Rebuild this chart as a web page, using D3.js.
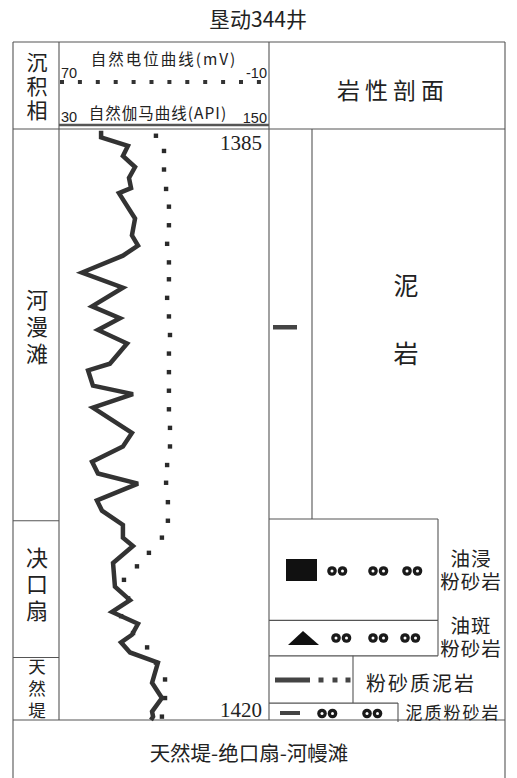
<!DOCTYPE html>
<html><head><meta charset="utf-8">
<script src="https://cdn.jsdelivr.net/npm/d3@7/dist/d3.min.js"></script>
<style>body{margin:0;background:#fff}svg{display:block}</style>
</head><body>
<script>
// ---------- data ----------
const title = "垦动344井";
const depthTicks = [1385, 1420];
// gamma ray curve (API) sampled by depth (m)
const grDepth = [1385.1,1385.5,1386.0,1386.6,1387.25,1387.9,1388.5,1388.8,1390.3,1391.3,1391.9,1392.5,1393.5,1394.4,1395.5,1396.2,1396.9,1397.7,1398.9,1399.3,1400.2,1400.7,1401.5,1403.0,1403.8,1404.7,1405.4,1406.0,1407.0,1407.6,1408.45,1409.2,1409.7,1410.7,1412.1,1412.9,1413.6,1414.3,1414.95,1415.4,1416.0,1416.6,1417.8,1418.7,1419.5,1419.8,1420.0];
const grValue = [53.7,53.7,69.2,66.3,73.3,69.8,71.0,64.0,73.3,71.5,75.0,66.3,42.7,66.3,48.5,64.6,51.9,68.7,58.8,46.2,49.0,72.1,49.0,71.5,66.3,48.5,51.9,75.0,51.3,54.2,66.3,66.3,72.1,60.6,61.7,70.4,60.0,75.0,71.5,65.2,70.4,86.5,83.1,88.8,83.1,83.7,82.5];
// spontaneous potential curve (mV) sampled by depth (m)
const spDepth = [1385.4,1386.3,1387.4,1388.55,1389.6,1390.7,1391.8,1392.9,1393.9,1395.0,1396.1,1397.2,1398.3,1399.4,1400.5,1401.6,1402.7,1403.8,1404.9,1405.95,1407.1,1408.2,1409.2,1410.1,1410.9,1411.7,1412.8,1413.85,1414.85,1415.7,1416.6,1417.6,1418.7,1419.8];
const spValue = [33.1,30.0,30.0,29.2,28.1,28.1,28.8,28.1,28.1,28.8,28.1,27.7,28.1,28.1,28.1,28.1,27.7,27.7,28.8,29.2,28.5,28.5,30.8,35.8,40.4,45.4,43.8,46.5,41.9,36.5,33.1,29.6,29.6,30.8];
// sedimentary facies
const faciesNames = ["河漫滩","决口扇","天然堤"];
const faciesTop = [1385, 1408.2, 1416.3];
const faciesBottom = [1408.2, 1416.3, 1420];
// lithology
const lithNames = ["泥岩","油浸粉砂岩","油斑粉砂岩","粉砂质泥岩","泥质粉砂岩"];
const lithTop = [1385, 1408.1, 1414.1, 1416.2, 1419.0];
const lithBottom = [1408.1, 1414.1, 1416.2, 1419.0, 1420];
const bottomLabel = "天然堤-绝口扇-河幔滩";

// ---------- layout ----------
const W = 517, H = 778;
const X0 = 13, XF = 59, XC = 269, XL = 312, X1 = 505;
const YTOP = 42, YHEAD = 129, YBODY = 720;
const LINE = "#555", INK = "#222";
const CJK = "'Noto Sans CJK SC','Noto Sans',sans-serif";
const SERIF = "'Liberation Serif','DejaVu Serif',serif";
const SANS = "'Liberation Sans',Arial,sans-serif";

const svg = d3.select("body").append("svg").attr("width", W).attr("height", H);

const y = d3.scaleLinear().domain([1385, 1420]).range([YHEAD, YBODY]);
const grX = d3.scaleLinear().domain([30, 150]).range([XF + 1, XC - 1]);
const spX = d3.scaleLinear().domain([70, -10]).range([XF + 1, XC - 1]);

function line(x1, y1, x2, y2, w) {
  svg.append("line").attr("x1", x1).attr("y1", y1).attr("x2", x2).attr("y2", y2)
    .attr("stroke", LINE).attr("stroke-width", w || 1.1);
}
function text(s, x, yy, size, opts) {
  opts = opts || {};
  return svg.append("text").attr("x", x).attr("y", yy).text(s)
    .attr("font-family", opts.family || CJK).attr("font-size", size)
    .attr("text-anchor", opts.anchor || "middle")
    .attr("dominant-baseline", opts.baseline || "central")
    .attr("letter-spacing", opts.ls || 0)
    .attr("font-weight", opts.weight || "normal")
    .attr("fill", INK);
}
// vertical (top-to-bottom) text centred at (x, yc), glyph pitch = step
function vtext(s, x, yc, size, step) {
  const ls = step - size;
  return svg.append("text").attr("x", x).attr("y", yc + ls / 2).text(s)
    .attr("writing-mode", "vertical-rl")
    .attr("font-family", CJK).attr("font-size", size)
    .attr("text-anchor", "middle").attr("letter-spacing", ls)
    .attr("fill", INK);
}
// two-line label in an html box: first line centred at y0, centred on xc
function label2(lines, xc, y0, size, lh) {
  const w = 70;
  const fo = svg.append("foreignObject").attr("x", xc - w / 2).attr("y", y0 - lh / 2)
    .attr("width", w).attr("height", lh * lines.length + 4);
  const div = fo.append("xhtml:div")
    .style("font-family", CJK).style("font-size", size + "px").style("line-height", lh + "px")
    .style("text-align", "center").style("letter-spacing", "1px").style("color", INK)
    .style("white-space", "nowrap");
  div.html(lines.join("<br>"));
}

// title
text(title, 258, 18, 21);

// ---------- frame ----------
line(X0, YTOP, X1, YTOP);
line(X0, YTOP, X0, H);
line(X1, YTOP, X1, H);
line(XF, YTOP, XF, YBODY);
line(XC, YTOP, XC, YBODY);
line(X0, YHEAD, X1, YHEAD);
line(X0, YBODY, X1, YBODY);
line(XF, 125, XC, 125, 2.6);

// ---------- header ----------
vtext("沉积相", 37, 86, 21, 24);
text("自然电位曲线(mV)", 164, 58, 15.5, {ls: 2});
text("70", 61, 78, 14.5, {anchor: "start", baseline: "auto", family: SANS});
text("-10", 267, 78, 14.5, {anchor: "end", baseline: "auto", family: SANS});
svg.append("line").attr("x1", grX.range()[0]).attr("x2", grX.range()[1]).attr("y1", 82).attr("y2", 82)
  .attr("stroke", "#333").attr("stroke-width", 4).attr("stroke-dasharray", "4,13.9");
text("30", 61, 122, 14.5, {anchor: "start", baseline: "auto", family: SANS});
text("自然伽马曲线(API)", 158, 112, 15.5, {ls: 1});
text("150", 267, 123, 14.5, {anchor: "end", baseline: "auto", family: SANS});
text("岩性剖面", 393, 89, 23, {ls: 5});

// ---------- facies ----------
faciesNames.forEach((n, i) => {
  if (i > 0) line(X0, y(faciesTop[i]), XF, y(faciesTop[i]));
  const yc = (y(faciesTop[i]) + y(faciesBottom[i])) / 2;
  if (i === 0) vtext(n, 37, yc + 2, 22, 27);
  else if (i === 1) vtext(n, 37, yc - 5, 22, 26.5);
  else vtext(n, 37, yc, 17.5, 22);
});

// ---------- curves ----------
svg.append("clipPath").attr("id", "cc").append("rect")
  .attr("x", XF + 1).attr("y", YHEAD + 1).attr("width", XC - XF - 2).attr("height", YBODY - YHEAD + 2);
const curves = svg.append("g").attr("clip-path", "url(#cc)");
const spData = spDepth.map((d, i) => ({d, v: spValue[i]}));
curves.selectAll("rect.sp").data(spData).enter().append("rect").attr("class", "sp")
  .attr("x", p => spX(p.v) - 2.2).attr("y", p => y(p.d) - 2.2)
  .attr("width", 4.4).attr("height", 4.4).attr("fill", "#2a2a2a");
const grData = grDepth.map((d, i) => ({d, v: grValue[i]}));
curves.append("path").datum(grData)
  .attr("d", d3.line().x(p => grX(p.v)).y(p => y(p.d)))
  .attr("fill", "none").attr("stroke", "#333").attr("stroke-width", 4.5)
  .attr("stroke-linejoin", "miter").attr("stroke-miterlimit", 3);

text(String(depthTicks[0]), 262, 150, 21, {anchor: "end", baseline: "auto", family: SERIF});
text(String(depthTicks[1]), 262, 717, 21, {anchor: "end", baseline: "auto", family: SERIF});

// ---------- lithology ----------
function oil(x, yy) {
  svg.append("circle").attr("cx", x).attr("cy", yy).attr("r", 4.8).attr("fill", "#1a1a1a");
  svg.append("circle").attr("cx", x).attr("cy", yy).attr("r", 1.5).attr("fill", "#fff");
}
function pairs(xs, yy) { xs.forEach(x => { oil(x, yy); oil(x + 10.5, yy); }); }

lithNames.forEach((n, i) => {
  const t = y(lithTop[i]), b = y(lithBottom[i]);
  if (n === "泥岩") {
    line(XL, t, XL, b);
    svg.append("rect").attr("x", 273).attr("y", 325).attr("width", 24).attr("height", 4.5).attr("fill", "#444");
    vtext(n, 406, 319, 25, 68);
  } else if (n === "油浸粉砂岩") {
    line(XC, t, 438, t); line(438, t, 438, b); line(XC, b, 438, b);
    svg.append("rect").attr("x", 286).attr("y", 559).attr("width", 31).attr("height", 22).attr("fill", "#111");
    pairs([332, 373, 407], 571);
    label2([n.slice(0, 2), n.slice(2)], 471, 557, 19.5, 23);
  } else if (n === "油斑粉砂岩") {
    line(438, t, 438, b); line(XC, b, 438, b);
    svg.append("path").attr("d", "M288,645L303,631L319,645Z").attr("fill", "#111");
    pairs([336, 373, 405], 638);
    label2([n.slice(0, 2), n.slice(2)], 471, 624, 19.5, 23);
  } else if (n === "粉砂质泥岩") {
    line(353, t, 353, b); line(XC, b, 398, b);
    svg.append("rect").attr("x", 275).attr("y", 677.5).attr("width", 35).attr("height", 5).attr("fill", "#444");
    [321, 335, 348].forEach(x => svg.append("rect").attr("x", x - 2.5).attr("y", 677.5).attr("width", 5).attr("height", 5).attr("fill", "#444"));
    text(n, 421, 682, 20, {ls: 2});
  } else {
    line(398, t, 398, b + 2);
    svg.append("rect").attr("x", 280).attr("y", 711).attr("width", 20).attr("height", 4).attr("fill", "#444");
    pairs([322, 367], 713.5);
    text(n, 453, 711, 17, {ls: 2});
  }
});

// bottom label
text(bottomLabel, 249, 752, 20.5);
</script>
</body></html>
